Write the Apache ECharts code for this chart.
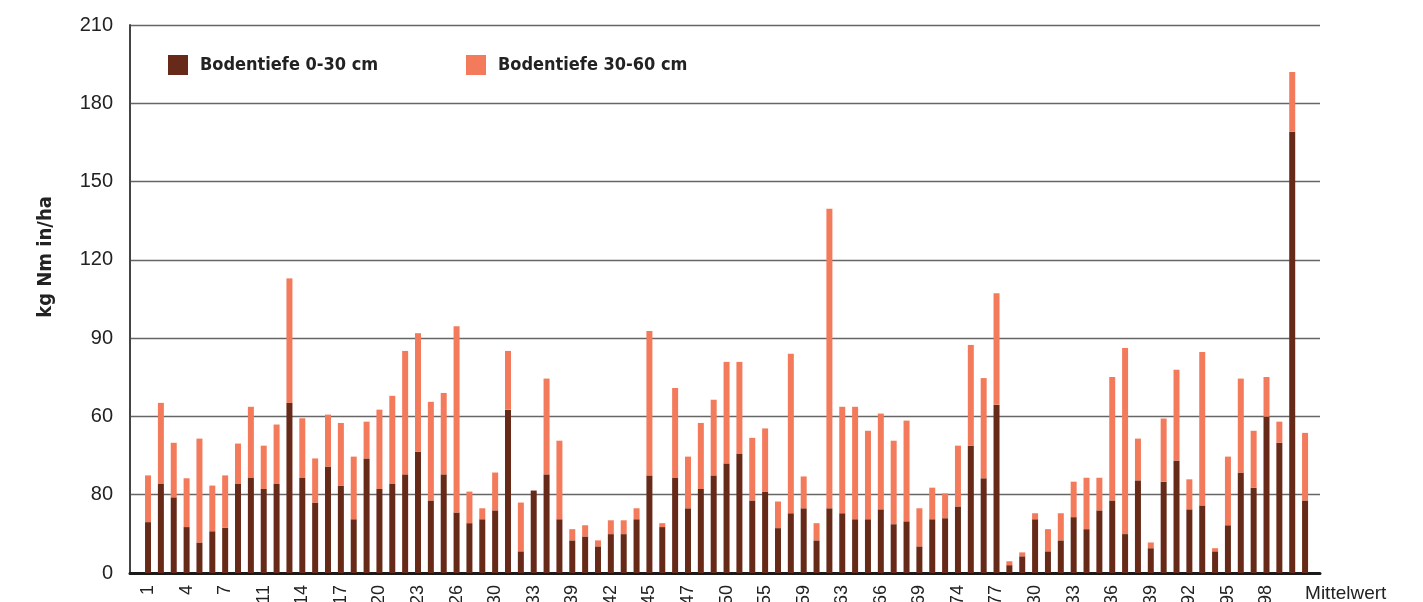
<!DOCTYPE html>
<html>
<head>
<meta charset="utf-8">
<script src="https://cdn.jsdelivr.net/npm/echarts@6/dist/echarts.min.js"></script>
<style>
html,body{margin:0;padding:0;background:#fff;}
#chart{width:1423px;height:602px;}
</style>
</head>
<body>
<div id="chart"></div>
<script>
// tick labels shown along the x axis (every third bar), last one is the mean
const xTickLabels = ['1','4','7','11','14','17','20','23','26','30','33','39','42','45','47','50','55','59','63','66','69','74','77','30','33','36','39','92','95','98','Mittelwert'];
// y tick labels as printed
const yTickLabels = ['0','80','60','90','120','150','180','210'];
const seriesNames = ['Bodentiefe 0-30 cm', 'Bodentiefe 30-60 cm'];

// kg Nmin/ha, depth 0-30 cm
const depth0to30 = [
  19.5,34.1,29.0,17.6,11.7,16.0,17.3,34.1,36.4,32.2,34.1,65.2,36.4,27.0,40.8,33.5,20.6,43.9,32.2,34.1,37.8,46.5,27.8,
  37.8,23.2,19.1,20.6,24.0,62.6,8.3,31.6,37.8,20.6,12.5,14.0,10.2,14.9,14.9,20.6,37.4,17.6,36.4,24.8,32.2,37.4,42.0,
  45.8,27.8,31.2,17.2,22.9,24.8,12.5,24.8,22.9,20.6,20.6,24.4,18.7,19.8,10.2,20.6,21.0,25.5,48.8,36.3,64.5,3.0,6.4,
  20.6,8.3,12.5,21.4,16.8,24.0,27.8,14.9,35.5,9.5,35.0,43.1,24.4,25.9,8.3,18.3,38.5,32.7,59.9,49.9,169.1,27.8
];
// kg Nmin/ha, depth 30-60 cm (stacked on top)
const depth30to60 = [
  17.9,31.1,20.9,18.7,39.8,17.5,20.1,15.5,27.3,16.6,22.8,47.7,22.9,16.9,19.9,24.0,24.0,14.1,30.4,33.8,47.3,45.4,37.8,
  31.2,71.4,12.1,4.2,14.5,22.5,18.7,0,36.7,30.1,4.3,4.3,2.3,5.3,5.3,4.2,55.3,1.5,34.5,19.8,25.3,29.0,38.9,
  35.1,24.0,24.2,10.2,61.1,12.2,6.6,114.8,40.8,43.1,33.9,36.7,32.0,38.6,14.6,12.1,9.5,23.3,38.6,38.4,42.7,1.5,1.5,
  2.3,8.5,10.4,13.6,19.7,12.5,47.3,71.3,16.0,2.2,24.2,34.8,11.5,58.8,1.2,26.3,36.0,21.8,15.2,8.1,22.9,25.9
];

const categories = depth0to30.map((_, i) => (i % 3 === 0 ? xTickLabels[i / 3] : ''));
const lastIdx = categories.length - 1;

const COLORS = ['#672A18', '#F37B5C'];
const handFont = 'DejaVu Sans Condensed';
const legendText = {fontFamily: handFont, fontWeight: 'bold', fontSize: 18, color: '#222', padding: [0, 0, 0, 7]};

const chart = echarts.init(document.getElementById('chart'), null, {renderer: 'canvas'});
chart.setOption({
  animation: false,
  backgroundColor: '#ffffff',
  grid: [
    {left: 130, right: 103, top: 25, bottom: 29, containLabel: false, outerBoundsMode: 'none'},
    {left: 141.6, right: 111.5, top: 25, bottom: 29, containLabel: false, outerBoundsMode: 'none'}
  ],
  legend: [
    {data: [seriesNames[0]], left: 168, top: 55, padding: 0, itemWidth: 20, itemHeight: 20, icon: 'rect', textStyle: legendText},
    {data: [seriesNames[1]], left: 466, top: 55, padding: 0, itemWidth: 20, itemHeight: 20, icon: 'rect', textStyle: legendText}
  ],
  xAxis: [
    {
      gridIndex: 0, type: 'value', min: 0, max: 1, position: 'bottom',
      axisLine: {show: true, onZero: false, lineStyle: {color: '#1a1a1a', width: 3}},
      axisTick: {show: false}, axisLabel: {show: false}, splitLine: {show: false}
    },
    {
      gridIndex: 1, type: 'category', data: categories, position: 'bottom',
      axisLine: {show: false}, axisTick: {show: false}, splitLine: {show: false},
      axisLabel: {
        interval: 0, rotate: 90, margin: 12, fontSize: 18, color: '#222',
        fontFamily: 'Liberation Sans, Arial, sans-serif',
        formatter: (v, i) => (i === lastIdx ? '' : v)
      }
    },
    {
      gridIndex: 1, type: 'category', data: categories, position: 'bottom',
      axisLine: {show: false}, axisTick: {show: false}, splitLine: {show: false},
      axisLabel: {
        interval: 0, rotate: 0, margin: 11, fontSize: 19, color: '#222', align: 'left',
        fontFamily: 'Liberation Sans, Arial, sans-serif',
        formatter: (v, i) => (i === lastIdx ? v : '')
      }
    }
  ],
  yAxis: [
    {
      gridIndex: 0, type: 'value', min: 0, max: 210, interval: 30,
      name: 'kg Nm in/ha', nameLocation: 'middle', nameGap: 74, nameRotate: 90,
      nameTextStyle: {fontFamily: handFont, fontWeight: 'bold', fontSize: 20, color: '#222', padding: [0, 0, 0, 84]},
      axisLine: {show: true, lineStyle: {color: '#444', width: 2}},
      axisTick: {show: false},
      axisLabel: {
        margin: 17, fontSize: 20, color: '#222', fontFamily: 'Liberation Sans, Arial, sans-serif',
        formatter: (v) => yTickLabels[Math.round(v / 30)]
      },
      splitLine: {show: true, lineStyle: {color: '#666', width: 1.4}}
    },
    {
      gridIndex: 1, type: 'value', min: 0, max: 210, interval: 30, show: false,
      splitLine: {show: false}
    }
  ],
  series: [
    {
      name: seriesNames[0], type: 'bar', stack: 'n', xAxisIndex: 1, yAxisIndex: 1,
      barWidth: 6, data: depth0to30, itemStyle: {color: COLORS[0]}
    },
    {
      name: seriesNames[1], type: 'bar', stack: 'n', xAxisIndex: 1, yAxisIndex: 1,
      barWidth: 6, data: depth30to60, itemStyle: {color: COLORS[1]}
    }
  ]
});
</script>
</body>
</html>
